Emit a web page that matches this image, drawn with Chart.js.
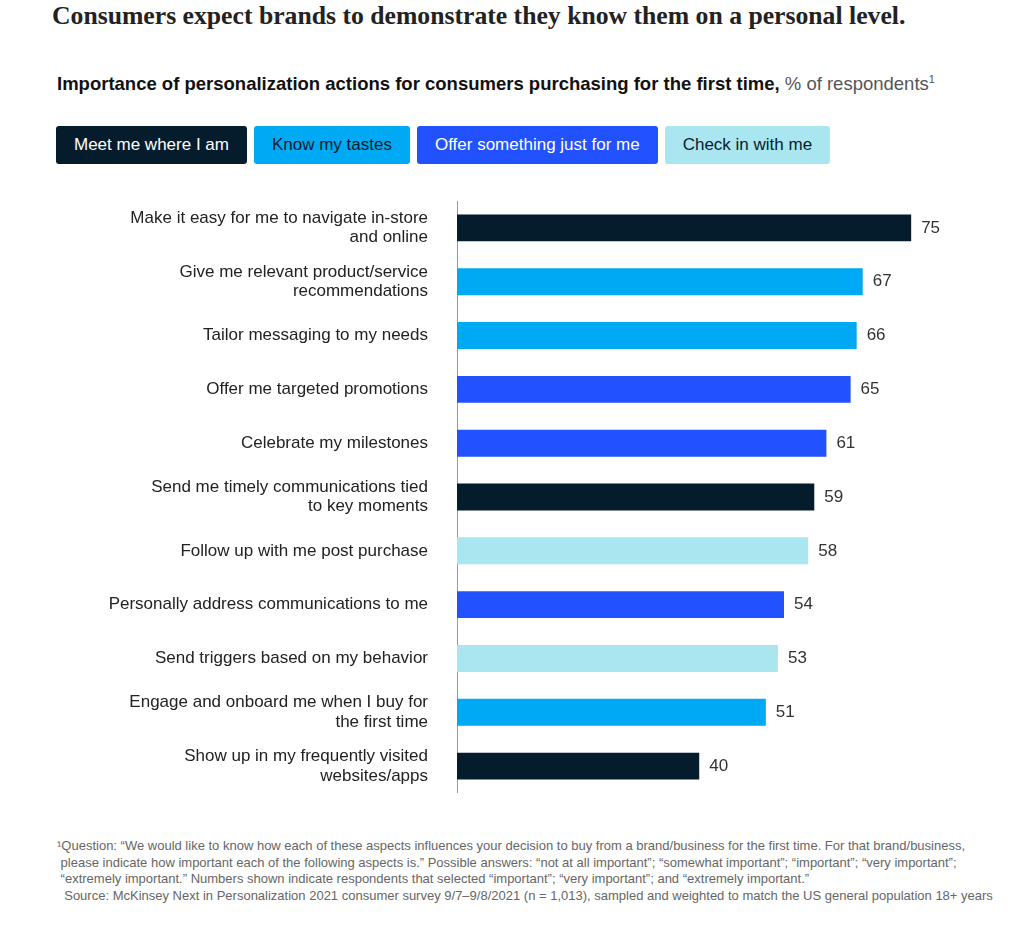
<!DOCTYPE html>
<html>
<head>
<meta charset="utf-8">
<script src="https://cdn.jsdelivr.net/npm/chart.js@4"></script>
<style>
  body { margin: 0; background: #fff; font-family: "Liberation Sans", Arial, sans-serif; color: #222; }
  #page { position: relative; width: 1024px; height: 927px; overflow: hidden; }
  h1 { position: absolute; left: 52px; top: 1px; margin: 0; font: bold 25.7px "Liberation Serif", serif; color: #222; white-space: nowrap; }
  #sub { position: absolute; left: 57px; top: 73px; font-size: 18.5px; white-space: nowrap; }
  #sub b { color: #111; }
  #sub span { color: #555; }
  #legend { position: absolute; left: 56px; top: 126px; display: flex; gap: 7px; }
  #legend div { height: 38px; line-height: 38px; padding: 0 18px; border-radius: 3px; font-size: 17px; }
  #wrap { position: absolute; left: 0; top: 201px; width: 1024px; height: 592px; }
  #notes { position: absolute; left: 57px; top: 838px; font-size: 13px; line-height: 16.5px; color: #666; white-space: pre; }
</style>
</head>
<body>
<div id="page">
  <h1>Consumers expect brands to demonstrate they know them on a personal level.</h1>
  <div id="sub"><b>Importance of personalization actions for consumers purchasing for the first time,</b> <span>% of respondents<sup style="font-size:11px">1</sup></span></div>
  <div id="legend"></div>
  <div id="wrap"><canvas id="chart"></canvas></div>
  <div id="notes"></div>
</div>
<script>
const categories = [
  ['Make it easy for me to navigate in-store', 'and online'],
  ['Give me relevant product/service', 'recommendations'],
  'Tailor messaging to my needs',
  'Offer me targeted promotions',
  'Celebrate my milestones',
  ['Send me timely communications tied', 'to key moments'],
  'Follow up with me post purchase',
  'Personally address communications to me',
  'Send triggers based on my behavior',
  ['Engage and onboard me when I buy for', 'the first time'],
  ['Show up in my frequently visited', 'websites/apps']
];
const values = [75, 67, 66, 65, 61, 59, 58, 54, 53, 51, 40];
const groups = ['Meet me where I am', 'Know my tastes', 'Know my tastes', 'Offer something just for me',
  'Offer something just for me', 'Meet me where I am', 'Check in with me', 'Offer something just for me',
  'Check in with me', 'Know my tastes', 'Meet me where I am'];
const legendNames = ['Meet me where I am', 'Know my tastes', 'Offer something just for me', 'Check in with me'];
const footnotes = [
  '\u00b9Question: \u201cWe would like to know how each of these aspects influences your decision to buy from a brand/business for the first time. For that brand/business,',
  ' please indicate how important each of the following aspects is.\u201d Possible answers: \u201cnot at all important\u201d; \u201csomewhat important\u201d; \u201cimportant\u201d; \u201cvery important\u201d;',
  ' \u201cextremely important.\u201d Numbers shown indicate respondents that selected \u201cimportant\u201d; \u201cvery important\u201d; and \u201cextremely important.\u201d',
  '  Source: McKinsey Next in Personalization 2021 consumer survey 9/7\u20139/8/2021 (n = 1,013), sampled and weighted to match the US general population 18+ years'
];

const fill = {
  'Meet me where I am': '#051c2c',
  'Know my tastes': '#00a9f4',
  'Offer something just for me': '#2251ff',
  'Check in with me': '#aae6f0'
};
const ink = {
  'Meet me where I am': '#fff',
  'Know my tastes': '#051c2c',
  'Offer something just for me': '#fff',
  'Check in with me': '#051c2c'
};

const legend = document.getElementById('legend');
legendNames.forEach(n => {
  const d = document.createElement('div');
  d.textContent = n;
  d.style.background = fill[n];
  d.style.color = ink[n];
  legend.appendChild(d);
});
document.getElementById('notes').textContent = footnotes.join('\n');

// numbers at the end of each bar
const valueLabels = {
  id: 'valueLabels',
  afterDatasetsDraw(chart) {
    const c = chart.ctx;
    c.save();
    c.font = '17px "Liberation Sans", Arial, sans-serif';
    c.fillStyle = '#333';
    c.textBaseline = 'middle';
    chart.getDatasetMeta(0).data.forEach((bar, i) => {
      c.fillText(values[i], bar.x + 10, bar.y);
    });
    c.restore();
  }
};

new Chart(document.getElementById('chart'), {
  type: 'bar',
  data: {
    labels: categories,
    datasets: [{
      data: values,
      backgroundColor: groups.map(g => fill[g]),
      barPercentage: 0.5,
      categoryPercentage: 1
    }]
  },
  options: {
    indexAxis: 'y',
    responsive: true,
    maintainAspectRatio: false,
    animation: false,
    layout: { padding: { left: 0, right: 22, top: 0, bottom: 0 } },
    plugins: { legend: { display: false }, tooltip: { enabled: false } },
    scales: {
      x: { display: false, min: 0, max: 90 },
      y: {
        grid: { display: false, drawTicks: false },
        border: { display: true, color: '#999', width: 1 },
        afterFit(scale) {
          scale.width = 457;
          scale.paddingTop = 0;
          scale.paddingBottom = 0;
        },
        ticks: {
          padding: 29,
          color: '#222',
          font: { size: 17, family: '"Liberation Sans", Arial, sans-serif', lineHeight: 1.15 }
        }
      }
    }
  },
  plugins: [valueLabels]
});
</script>
</body>
</html>
